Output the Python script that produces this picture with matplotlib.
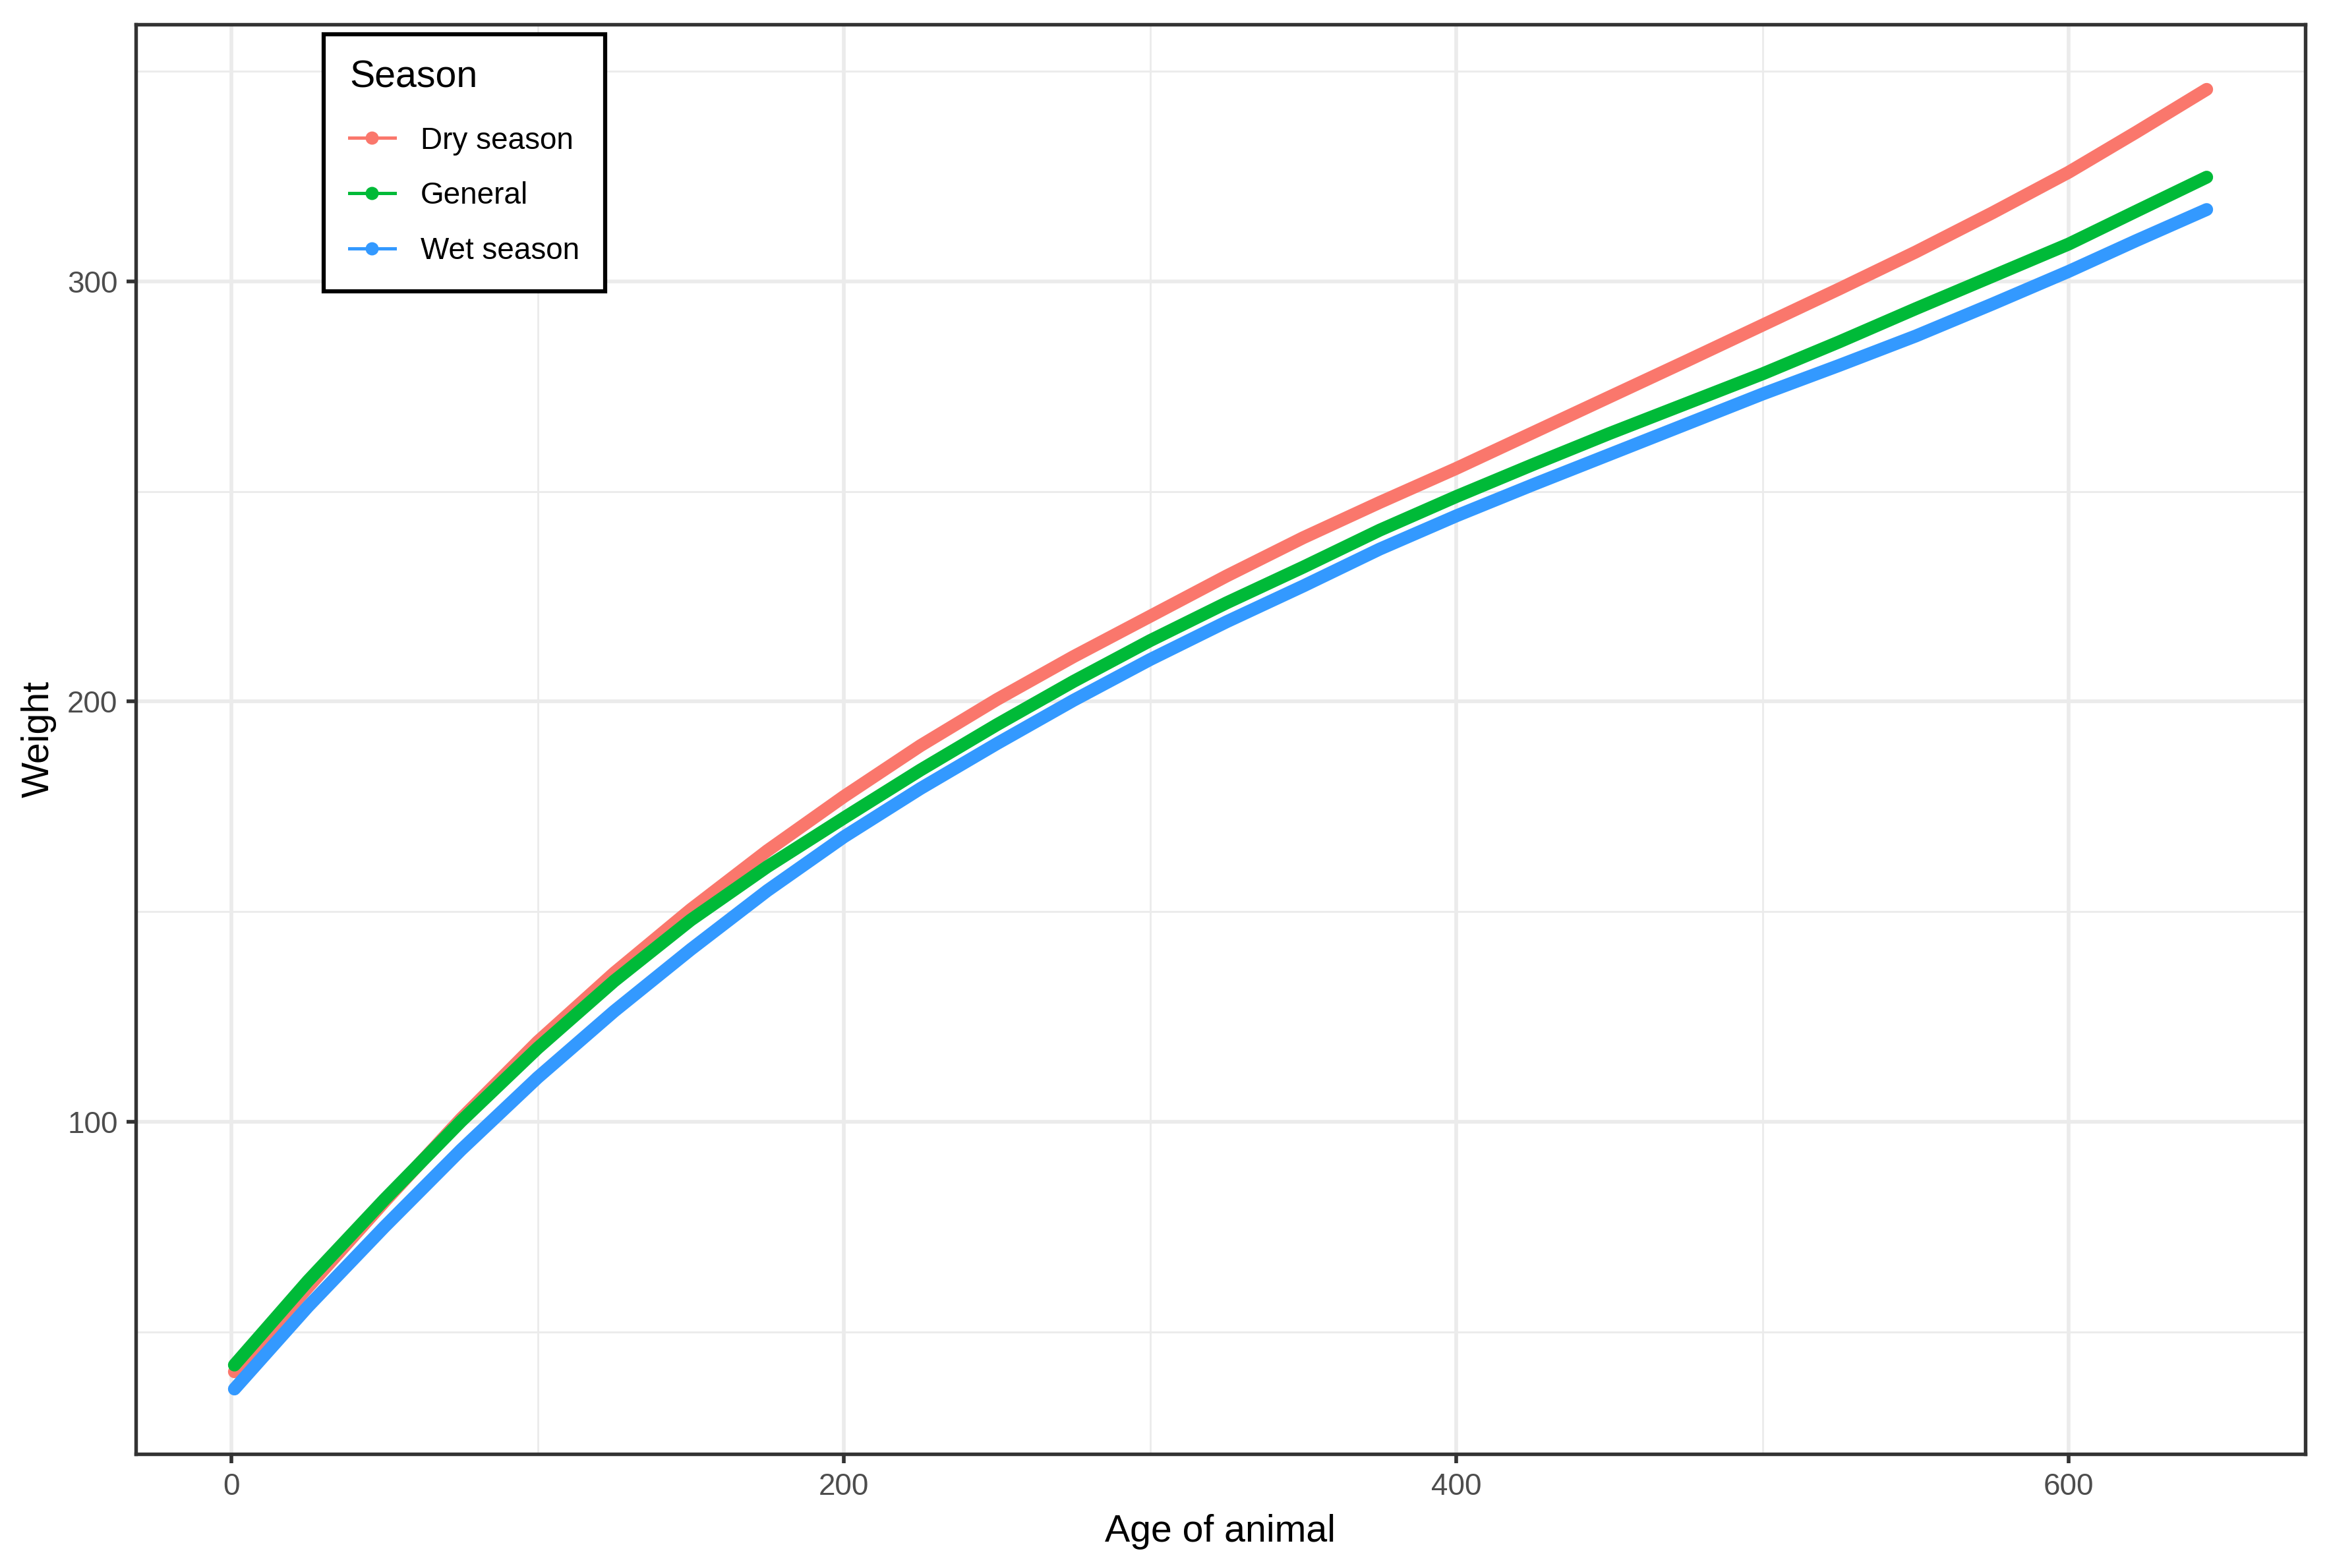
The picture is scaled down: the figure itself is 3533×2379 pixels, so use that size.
import matplotlib
matplotlib.use("Agg")
import matplotlib.pyplot as plt
from matplotlib.lines import Line2D
import numpy as np

plt.rcParams['font.family'] = ['Liberation Sans', 'DejaVu Sans']

# ---- data ----
age = [1, 25, 50, 75, 100, 125, 150, 175, 200, 225, 250, 275, 300, 325, 350,
       375, 400, 425, 450, 475, 500, 525, 550, 575, 600, 622, 645]
dry_season = [40.5, 60.6, 81.0, 100.7, 119.0, 135.4, 150.5, 164.5, 177.4, 189.5, 200.5,
              210.7, 220.3, 229.9, 239.0, 247.4, 255.5, 264.0, 272.5, 281.0, 289.6,
              298.2, 307.0, 316.3, 326.0, 335.5, 345.7]
general = [42.1, 62.1, 81.5, 100.1, 117.5, 133.5, 148.0, 160.7, 172.3, 183.7, 194.5,
           204.8, 214.5, 223.5, 232.0, 240.8, 248.8, 256.4, 263.8, 270.9, 278.0,
           285.6, 293.5, 301.2, 308.9, 316.7, 324.8]
wet_season = [36.4, 56.0, 75.0, 93.3, 110.5, 126.3, 141.0, 155.0, 167.8, 179.3, 190.0,
              200.3, 210.0, 219.0, 227.5, 236.3, 244.2, 251.6, 258.8, 266.0, 273.2,
              280.0, 287.0, 294.6, 302.4, 309.7, 317.1]
series_names = ["Dry season", "General", "Wet season"]
series_colors = ["#FA776C", "#00BA38", "#3399FF"]

x_major = [0, 200, 400, 600]
x_minor = [100, 300, 500]
y_major = [100, 200, 300]
y_minor = [50, 150, 250, 350]

W, H = 3533, 2379
DPI = 300
fig = plt.figure(figsize=(W / DPI, H / DPI), dpi=DPI)
ax = fig.add_axes([206 / W, 1 - 2206 / H, (3497 - 206) / W, (2206 - 37) / H])

for name, vals, col in zip(series_names, [dry_season, general, wet_season], series_colors):
    ax.plot(age, vals, color=col, lw=4.7, solid_capstyle='round', solid_joinstyle='round', zorder=3)

# limits with ggplot-style 5% expansion
allv = np.concatenate([dry_season, general, wet_season])
xr = max(age) - min(age)
yr = allv.max() - allv.min()
ax.set_xlim(min(age) - 0.05 * xr, max(age) + 0.05 * xr)
ax.set_ylim(allv.min() - 0.05 * yr, allv.max() + 0.05 * yr)

ax.set_xticks(x_major)
ax.set_xticks(x_minor, minor=True)
ax.set_yticks(y_major)
ax.set_yticks(y_minor, minor=True)
ax.grid(which='major', color='#EBEBEB', lw=1.35, zorder=0)
ax.grid(which='minor', color='#EBEBEB', lw=0.68, zorder=0)
ax.set_axisbelow(True)

for s in ax.spines.values():
    s.set_color('#333333')
    s.set_linewidth(1.3)

ax.tick_params(which='major', length=3.4, width=1.35, color='#333333',
               labelsize=11, labelcolor='#4D4D4D', pad=3.2)
ax.tick_params(which='minor', length=0)

ax.set_xlabel("Age of animal", fontsize=13.75, color='black', labelpad=4.6)
ax.set_ylabel("Weight", fontsize=13.75, color='black', labelpad=4)

handles = [Line2D([], [], color=c, lw=1.2, marker='o', markersize=3.8) for c in series_colors]
leg = ax.legend(handles, series_names, title="Season", loc='upper left',
                bbox_to_anchor=(491 / W, 1 - 52 / H), bbox_transform=fig.transFigure,
                borderaxespad=0, fontsize=11, title_fontsize=13.75,
                frameon=True, fancybox=False, edgecolor='black',
                handlelength=1.5, handletextpad=0.85, borderpad=0.85,
                labelspacing=0.87, alignment='left')
leg.get_frame().set_linewidth(1.5)
leg.get_frame().set_facecolor('white')
leg.get_frame().set_alpha(1)
# extra gap between the legend title and the first key
leg._legend_box.sep = 0.87 * 11 + 1.6

fig.savefig("out.png", dpi=DPI)
